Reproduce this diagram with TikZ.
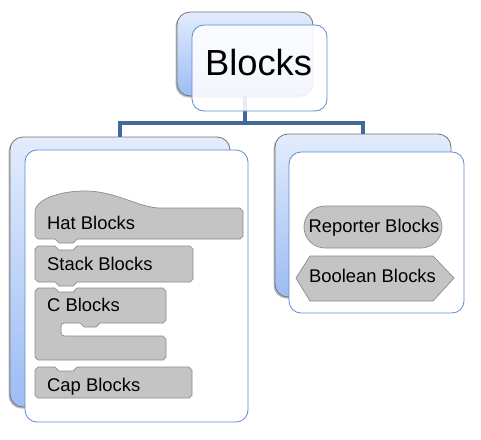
\documentclass[tikz,border=0pt]{standalone}
\usepackage{fontspec}
\setmainfont{Liberation Sans}
\usetikzlibrary{shadows}
\definecolor{conn}{HTML}{41699B}
\definecolor{frontblue}{HTML}{5B8CCF}
\definecolor{backtop}{HTML}{E3ECFC}
\definecolor{backbot}{HTML}{9CBCF4}
\definecolor{blockfill}{HTML}{C4C4C4}
\definecolor{blockline}{HTML}{8C8C8C}
\tikzset{
  backbox/.style={rectangle, draw=gray!90!black, line width=0.8pt, rounded corners=13pt,
    top color=backtop, bottom color=backbot, inner sep=0pt,
    drop shadow={shadow xshift=-1.5pt, shadow yshift=-1.5pt, opacity=0.45, fill=black!60}},
  frontbox/.style={rectangle, draw=frontblue, line width=0.8pt, rounded corners=12pt,
    fill=white, inner sep=0pt},
  connector/.style={draw=conn, line width=3.5pt, line join=miter},
  blockshape/.style={fill=blockfill, draw=blockline, line width=0.7pt},
  blocklabel/.style={inner sep=0pt, font=\fontsize{18.4}{20}\selectfont},
}
\begin{document}
\begin{tikzpicture}[x=1pt,y=-1pt]
\useasboundingbox (0,0) rectangle (481,439);
\fill[white] (0,0) rectangle (481,439);

% back boxes
\node[backbox, minimum width=136pt, minimum height=84pt] (topback) at (245,54) {};
\node[backbox, minimum width=220pt, minimum height=270pt] (leftback) at (120,272) {};
\node[backbox, minimum width=176pt, minimum height=163pt] (rightback) at (363,215.5) {};

% connectors
\coordinate (junc) at (245,123);
\draw[connector] (topback.south) -- (junc);
\draw[connector] (leftback.north) |- (junc) -| (rightback.north);

% front boxes
\node[frontbox, fill opacity=0.88, minimum width=135pt, minimum height=86pt] (topfront) at (259.5,68) {};
\node[frontbox, minimum width=223pt, minimum height=272pt] (leftfront) at (136.5,286) {};
\node[frontbox, minimum width=175pt, minimum height=161pt] (rightfront) at (376.5,232.5) {};

\node[inner sep=0pt, anchor=base, font=\fontsize{36.3}{40}\selectfont] (title) at (258.5,75) {Blocks};

% Hat block
\path[blockshape] (35,212) .. controls (35,200) and (58,191) .. (85,191)
  .. controls (115,191) and (135,206) .. (158,208)
  -- (240,208) -- (243,211) -- (243,236) -- (240,239)
  -- (77,239) -- (73,243) -- (59,243) -- (55,239) -- (38,239) -- (35,236) -- cycle;
\node[blocklabel, anchor=base west] (hat) at (47,229.5) {Hat Blocks};

% Stack block
\path[blockshape] (38,246) -- (55,246) -- (59,250) -- (73,250) -- (77,246) -- (190,246)
  -- (193,249) -- (193,279) -- (190,282) -- (77,282) -- (73,286) -- (59,286) -- (55,282)
  -- (38,282) -- (35,279) -- (35,249) -- cycle;
\node[blocklabel, anchor=base west] (stack) at (47,270.8) {Stack Blocks};

% C block
\path[blockshape] (38,288) -- (55,288) -- (59,292) -- (73,292) -- (77,288) -- (163,288)
  -- (166,291) -- (166,320) -- (163,323) -- (100,323) -- (96,327) -- (84,327) -- (80,323)
  -- (65,323) .. controls (62,323) and (61,324) .. (61,327) -- (61,332)
  .. controls (61,335) and (62,336) .. (65,336) -- (163,336) -- (166,339) -- (166,357)
  -- (163,360) -- (38,360) -- (35,357) -- (35,291) -- cycle;
\node[blocklabel, anchor=base west] (cblk) at (47,311.5) {C Blocks};

% Cap block
\path[blockshape] (38,367) -- (55,367) -- (59,371) -- (73,371) -- (77,367) -- (189,367)
  -- (192,370) -- (192,395) -- (189,398) -- (38,398) -- (35,395) -- (35,370) -- cycle;
\node[blocklabel, anchor=base west] (cap) at (47,391) {Cap Blocks};

% Reporter block
\path[blockshape, rounded corners=21pt] (304,206) rectangle (442,248);
\node[blocklabel, anchor=base] (rep) at (374,232.7) {Reporter Blocks};

% Boolean block
\path[blockshape] (296,278) -- (310,256) -- (433,256) -- (454,278) -- (433,301) -- (310,301) -- cycle;
\node[blocklabel, anchor=base] (bool) at (372.5,282.7) {Boolean Blocks};
\end{tikzpicture}
\end{document}
